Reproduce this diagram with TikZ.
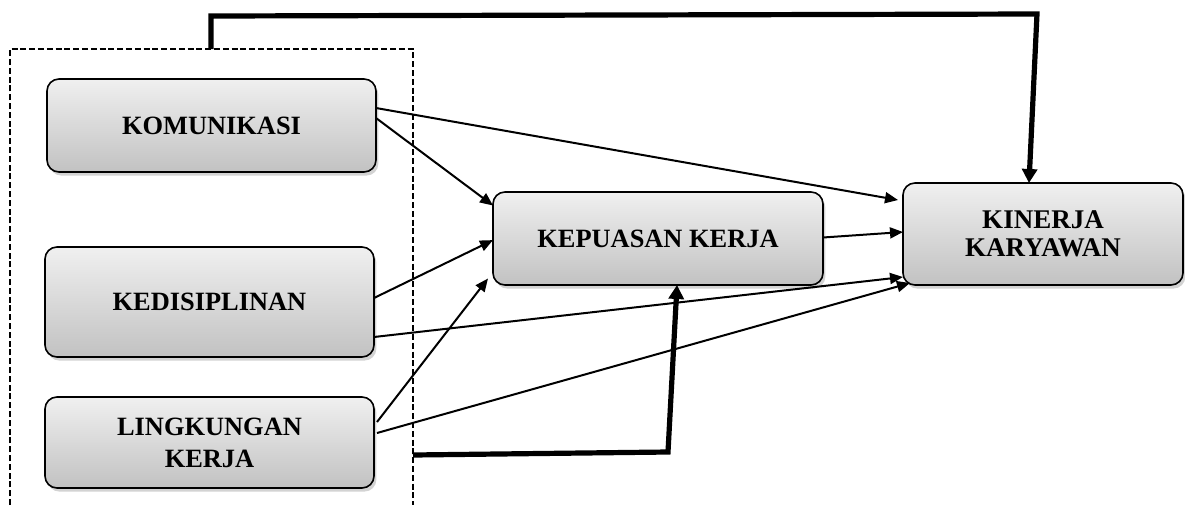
\documentclass[tikz,border=0pt]{standalone}
\usepackage{fontspec}
\setmainfont{Liberation Serif}
\usetikzlibrary{arrows.meta,shadows,calc}
\tikzset{
  box/.style={draw=black, line width=0.8pt, rounded corners=6pt,
    top color=gray!12, bottom color=gray!48, inner sep=0pt, outer sep=0pt,
    align=center, font=\fontsize{13.2}{14}\selectfont\bfseries,
    drop shadow={opacity=0.35, shadow xshift=1.2pt, shadow yshift=-1.8pt}},
  thinarrow/.style={line width=1pt, -{Triangle[length=6.5pt,width=5.5pt]}},
  thickline/.style={line width=2.6pt, line join=miter},
  thickarrow/.style={thickline, -{Triangle[length=7pt,width=7.5pt]}},
  groupline/.style={line width=0.65pt, dash pattern=on 3pt off 1.4pt}
}
\begin{document}
\begin{tikzpicture}[x=0.5pt,y=-0.5pt]
\useasboundingbox (0,0) rectangle (1185,505);
% group frame (open at bottom)
\coordinate (gbl) at (10,505);
\coordinate (gtl) at (10,49);
\coordinate (gtr) at (413,49);
\coordinate (gbr) at (413,505);
\draw[groupline] (gbl) -- (gtl) -- (gtr) -- (gbr);
% boxes
\node[box, minimum width=164.5pt, minimum height=46.5pt] (kom) at (211.5,125.5) {KOMUNIKASI};
\node[box, minimum width=164.5pt, minimum height=55pt] (ked) at (209.5,302) {KEDISIPLINAN};
\node[box, minimum width=164.5pt, minimum height=45.5pt, font=\fontsize{13.2}{16}\selectfont\bfseries] (lin) at (209.5,442.5) {LINGKUNGAN\\KERJA};
\node[box, minimum width=165pt, minimum height=46.5pt] (kep) at (658,238.5) {\raisebox{-1.5pt}{KEPUASAN KERJA}};
\node[box, minimum width=140pt, minimum height=51pt, font=\fontsize{13.5}{14}\selectfont\bfseries] (kin) at (1043,234) {\raisebox{0pt}{KINERJA}\\KARYAWAN};
% thin arrows
\draw[thinarrow] ([yshift=8.75pt]kom.east) -- ([xshift=-2.5pt,yshift=17pt]kin.west);
\draw[thinarrow] ([yshift=3.75pt]kom.east) -- ([yshift=16.5pt]kep.west);
\draw[thinarrow] ([yshift=2pt]ked.east) -- ([yshift=-0.8pt]kep.west);
\draw[thinarrow] ([yshift=-17.5pt]ked.east) -- ([yshift=-21.5pt]kin.west);
\draw[thinarrow] ([xshift=1.5pt,yshift=10.25pt]lin.east) -- ([xshift=-2.5pt,yshift=-20pt]kep.west);
\draw[thinarrow] ([xshift=1.5pt,yshift=4.75pt]lin.east) -- ([xshift=3.5pt,yshift=-24.5pt]kin.west);
\draw[thinarrow] ([yshift=0.5pt]kep.east) -- ([yshift=1pt]kin.west);
% thick feedback lines
\coordinate (tA) at (211,49);
\coordinate (tB) at (211,16);
\coordinate (tC) at (1037,14);
\draw[thickarrow] (tA) -- (tB) -- (tC) -- ([xshift=-7pt]kin.north);
\coordinate (bA) at (413,455);
\coordinate (bB) at (668,452);
\draw[thickarrow] (bA) -- (bB) -- ([xshift=9.5pt]kep.south);
\end{tikzpicture}
\end{document}
